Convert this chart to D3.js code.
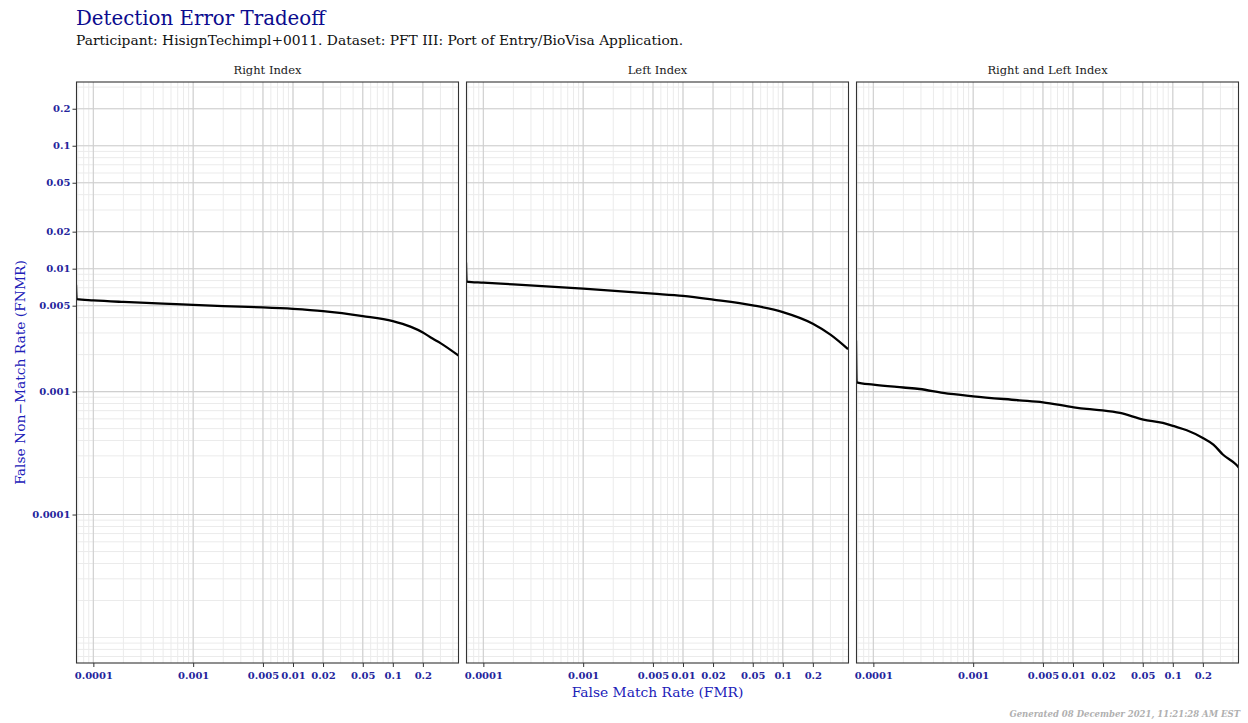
<!DOCTYPE html>
<html>
<head>
<meta charset="utf-8">
<script src="https://cdn.jsdelivr.net/npm/d3@7"></script>
<style>
  body { margin: 0; background: #fff; }
  text { font-family: "DejaVu Serif", "Liberation Serif", serif; }
</style>
</head>
<body>
<svg width="1248" height="723"></svg>
<script>
/* Data */

var panels = ["Right Index", "Left Index", "Right and Left Index"];

var fmrRight  = [0.000067, 0.000068, 0.0001, 0.0002, 0.0005, 0.001, 0.002, 0.005, 0.01, 0.02, 0.05, 0.1, 0.15, 0.2, 0.25, 0.3, 0.46];
var fnmrRight = [0.0074, 0.00565, 0.00552, 0.00536, 0.0052, 0.00507, 0.00496, 0.00484, 0.00471, 0.00452, 0.00412, 0.00375, 0.00338, 0.00303, 0.0027, 0.00248, 0.00195];

var fmrLeft  = [0.000067, 0.000068, 0.0001, 0.0002, 0.001, 0.005, 0.01, 0.02, 0.05, 0.1, 0.2, 0.3, 0.45];
var fnmrLeft = [0.0112, 0.00785, 0.00769, 0.00745, 0.00687, 0.00626, 0.006, 0.0056, 0.00503, 0.00444, 0.00357, 0.00291, 0.00222];

var fmrBoth  = [0.000067, 0.000068, 0.0001, 0.0002, 0.00029, 0.0005, 0.001, 0.0029, 0.005, 0.0102, 0.0137, 0.0198, 0.0296, 0.0507, 0.0795, 0.103, 0.138, 0.2, 0.255, 0.317, 0.43, 0.46];
var fnmrBoth = [0.0026, 0.00119, 0.00114, 0.00108, 0.00105, 0.000976, 0.000916, 0.00085, 0.000818, 0.000745, 0.000723, 0.000704, 0.000671, 0.000592, 0.000557, 0.000523, 0.000485, 0.00042, 0.000371, 0.000308, 0.000255, 0.00024];

var xTicks = [0.0001, 0.001, 0.005, 0.01, 0.02, 0.05, 0.1, 0.2];
var xTickLabels = ["0.0001", "0.001", "0.005", "0.01", "0.02", "0.05", "0.1", "0.2"];
var yTicks = [0.0001, 0.001, 0.005, 0.01, 0.02, 0.05, 0.1, 0.2];
var yTickLabels = ["0.0001", "0.001", "0.005", "0.01", "0.02", "0.05", "0.1", "0.2"];

var series = [
  {fmr: fmrRight, fnmr: fnmrRight},
  {fmr: fmrLeft,  fnmr: fnmrLeft},
  {fmr: fmrBoth,  fnmr: fnmrBoth}
];

/* Layout */

var svg = d3.select("svg");
var plotTop = 82, plotBottom = 663;

var panelX = d3.scaleBand()
  .domain(panels)
  .range([76.5, 1238.5])
  .paddingInner(8 / 390);

var pw = panelX.bandwidth();

var x = d3.scaleLog().domain([6.78e-5, 0.455]).range([0, pw]);
var y = d3.scaleLog().domain([6.2e-6, 0.33]).range([plotBottom, plotTop]);

// minor breaks: k * 10^n
var minor = [];
for (var n = -6; n <= 0; n++) {
  for (var k = 1; k <= 9; k++) minor.push(k * Math.pow(10, n));
}
var xMinor = minor.filter((v) => v >= x.domain()[0] && v <= x.domain()[1]);
var yMinor = minor.filter((v) => v >= y.domain()[0] && v <= y.domain()[1]);

/* Titles */

svg.append("text")
  .attr("x", 76).attr("y", 25)
  .attr("font-size", 19.8)
  .attr("fill", "#0b0b8e")
  .text("Detection Error Tradeoff");

svg.append("text")
  .attr("x", 76).attr("y", 45)
  .attr("font-size", 13.8)
  .attr("fill", "#111")
  .text("Participant: HisignTechimpl+0011. Dataset: PFT III: Port of Entry/BioVisa Application.");

/* Panels */

var line = d3.line()
  .curve(d3.curveMonotoneX)
  .x((d) => x(d[0]))
  .y((d) => y(d[1]));

panels.forEach((name, i) => {
  var g = svg.append("g")
    .attr("transform", "translate(" + panelX(name) + ",0)");

  g.append("clipPath").attr("id", "clip" + i)
    .append("rect")
    .attr("x", 0).attr("y", plotTop)
    .attr("width", pw).attr("height", plotBottom - plotTop);

  // minor grid
  g.selectAll(".xminor").data(xMinor).enter().append("line")
    .attr("x1", (d) => x(d)).attr("x2", (d) => x(d))
    .attr("y1", plotTop).attr("y2", plotBottom)
    .attr("stroke", "#ebebeb").attr("stroke-width", 1);
  g.selectAll(".yminor").data(yMinor).enter().append("line")
    .attr("x1", 0).attr("x2", pw)
    .attr("y1", (d) => y(d)).attr("y2", (d) => y(d))
    .attr("stroke", "#ebebeb").attr("stroke-width", 1);

  // major grid
  g.selectAll(".xmajor").data(xTicks).enter().append("line")
    .attr("x1", (d) => x(d)).attr("x2", (d) => x(d))
    .attr("y1", plotTop).attr("y2", plotBottom)
    .attr("stroke", "#cfcfcf").attr("stroke-width", 1.1);
  g.selectAll(".ymajor").data(yTicks).enter().append("line")
    .attr("x1", 0).attr("x2", pw)
    .attr("y1", (d) => y(d)).attr("y2", (d) => y(d))
    .attr("stroke", "#cfcfcf").attr("stroke-width", 1.1);

  // curve
  var pts = series[i].fmr.map((f, j) => [f, series[i].fnmr[j]]);
  g.append("path")
    .datum(pts)
    .attr("clip-path", "url(#clip" + i + ")")
    .attr("fill", "none")
    .attr("stroke", "#000")
    .attr("stroke-width", 2.3)
    .attr("stroke-linejoin", "round")
    .attr("d", line);

  // border
  g.append("rect")
    .attr("x", 0).attr("y", plotTop)
    .attr("width", pw).attr("height", plotBottom - plotTop)
    .attr("fill", "none")
    .attr("stroke", "#333").attr("stroke-width", 1.1);

  // strip label
  g.append("text")
    .attr("x", pw / 2).attr("y", 74)
    .attr("text-anchor", "middle")
    .attr("font-size", 11.5)
    .attr("fill", "#1a1a1a")
    .text(name);

  // x axis
  var xAxis = d3.axisBottom(x)
    .tickValues(xTicks)
    .tickFormat((d, j) => xTickLabels[j])
    .tickSize(4)
    .tickSizeOuter(0);
  var ax = g.append("g")
    .attr("transform", "translate(0," + plotBottom + ")")
    .call(xAxis);
  ax.select(".domain").remove();
  ax.selectAll(".tick line").attr("stroke", "#333");
  ax.selectAll(".tick text")
    .attr("dy", "0.9em")
    .attr("font-size", 10)
    .attr("font-weight", "bold")
    .attr("font-family", "DejaVu Serif")
    .attr("fill", "#24249c");
});

/* y axis (left panel only) */

var yAxis = d3.axisLeft(y)
  .tickValues(yTicks)
  .tickFormat((d, j) => yTickLabels[j])
  .tickSize(4)
  .tickSizeOuter(0);
var ay = svg.append("g")
  .attr("transform", "translate(" + panelX(panels[0]) + ",0)")
  .call(yAxis);
ay.select(".domain").remove();
ay.selectAll(".tick line").attr("stroke", "#333");
ay.selectAll(".tick text")
  .attr("x", -6)
  .attr("font-size", 10)
  .attr("font-weight", "bold")
  .attr("font-family", "DejaVu Serif")
  .attr("fill", "#24249c");

/* Axis titles */

svg.append("text")
  .attr("x", (panelX(panels[0]) + panelX(panels[2]) + pw) / 2)
  .attr("y", 697)
  .attr("text-anchor", "middle")
  .attr("font-size", 13.8)
  .attr("fill", "#2020b8")
  .text("False Match Rate (FMR)");

svg.append("text")
  .attr("transform", "translate(25," + ((plotTop + plotBottom) / 2) + ") rotate(-90)")
  .attr("text-anchor", "middle")
  .attr("font-size", 13.8)
  .attr("fill", "#2020b8")
  .text("False Non\u2212Match Rate (FNMR)");

/* Footer */

svg.append("text")
  .attr("x", 1240).attr("y", 717)
  .attr("text-anchor", "end")
  .attr("font-size", 8.5)
  .attr("font-weight", "bold")
  .attr("font-style", "italic")
  .attr("fill", "#b0b0b0")
  .text("Generated 08 December 2021, 11:21:28 AM EST");
</script>
</body>
</html>
